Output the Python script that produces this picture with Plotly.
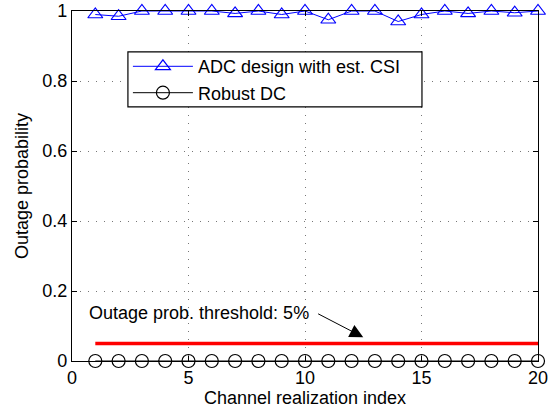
import plotly.graph_objects as go

idx = list(range(1, 21))
adc_est = [0.99, 0.985, 1.0, 1.0, 1.0, 1.0, 0.993, 1.0, 0.99, 1.0,
           0.975, 1.0, 1.0, 0.97, 0.99, 1.0, 0.993, 1.0, 0.995, 1.0]
robust_dc = [0.0] * 20
threshold = 0.05
xticks = [0, 5, 10, 15, 20]
yticks = [0, 0.2, 0.4, 0.6, 0.8, 1]
ytick_labels = ["0", "0.2", "0.4", "0.6", "0.8", "1"]

fig = go.Figure()
fig.add_trace(go.Scatter(
    x=idx, y=adc_est, mode="lines+markers", name="ADC design with est. CSI",
    line=dict(color="#0000ff", width=1),
    marker=dict(symbol="triangle-up-open", size=13, color="#0000ff", line=dict(width=1.2)),
    cliponaxis=False))
fig.add_trace(go.Scatter(
    x=idx, y=robust_dc, mode="lines+markers", name="Robust DC",
    line=dict(color="black", width=1),
    marker=dict(symbol="circle-open", size=13, color="black", line=dict(width=1.2)),
    cliponaxis=False))
fig.add_trace(go.Scatter(
    x=[idx[0], idx[-1]], y=[threshold, threshold], mode="lines",
    line=dict(color="#ff0000", width=3.5), showlegend=False, hoverinfo="skip"))

fig.add_annotation(x=12.5, y=0.068, ax=10.5, ay=0.137, xref="x", yref="y",
                   axref="x", ayref="y", text="", showarrow=True,
                   arrowhead=2, arrowsize=2.7, arrowwidth=1, arrowcolor="black")
fig.add_annotation(x=0.66, y=0.137, xref="x", yref="y", text="Outage prob. threshold: 5%",
                   showarrow=False, xanchor="left", yanchor="middle",
                   font=dict(size=18, color="black"))

# legend box
fig.add_shape(type="rect", xref="paper", yref="paper", x0=0.120, x1=0.751, y0=0.726, y1=0.883,
              line=dict(color="black", width=1.2), fillcolor="white", layer="above")

axis_common = dict(showline=True, linecolor="black", linewidth=1.3, mirror="ticks",
                   ticks="inside", ticklen=5, tickcolor="black", tickwidth=1,
                   showgrid=True, gridcolor="#777777", griddash="1px,7px", gridwidth=1,
                   zeroline=False, tickfont=dict(size=18, color="black"), automargin=False)
fig.update_xaxes(range=[0, 20], tickvals=xticks, title=dict(text="Channel realization index",
                 font=dict(size=18, color="black"), standoff=2), **axis_common)
fig.update_yaxes(range=[0, 1], tickvals=yticks, ticktext=ytick_labels,
                 title=dict(text="Outage probability", font=dict(size=18, color="black"), standoff=8),
                 **axis_common)

fig.update_layout(
    width=559, height=416,
    margin=dict(l=72, r=21, t=11, b=55),
    paper_bgcolor="white", plot_bgcolor="white",
    font=dict(family="Liberation Sans, Arial, sans-serif", color="black"),
    legend=dict(x=0.12, y=0.894, xanchor="left", yanchor="top",
                borderwidth=0, bgcolor="rgba(0,0,0,0)",
                font=dict(size=18), tracegroupgap=0, itemwidth=60),
)
fig.write_html("out.html", config={"displayModeBar": False},
               post_script="document.body.style.margin='0';")
